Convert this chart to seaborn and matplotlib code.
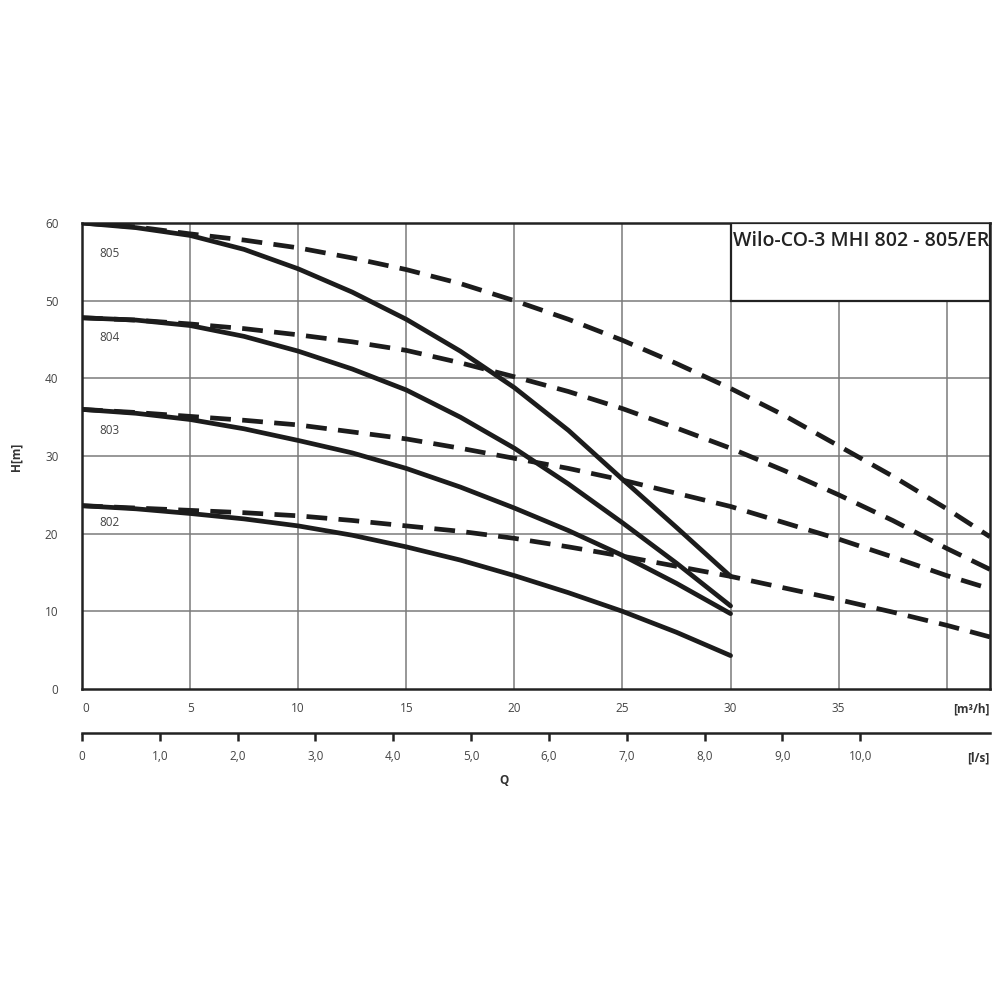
import matplotlib
matplotlib.use("Agg")
import matplotlib.pyplot as plt
import matplotlib.patches as mpatches
import seaborn as sns
import numpy as np

# Pump curves (Q in m3/h, H in m)
q_solid = [0, 2.5, 5, 7.5, 10, 12.5, 15, 17.5, 20, 22.5, 25, 27.5, 30]
h805_solid = [60.0, 59.4, 58.4, 56.6, 54.1, 51.1, 47.6, 43.5, 38.8, 33.3, 27.0, 20.8, 14.5]
h804_solid = [47.8, 47.5, 46.8, 45.4, 43.5, 41.2, 38.5, 35.0, 31.0, 26.4, 21.4, 16.2, 10.7]
h803_solid = [36.0, 35.5, 34.7, 33.5, 32.0, 30.4, 28.4, 26.0, 23.3, 20.4, 17.2, 13.6, 9.7]
h802_solid = [23.6, 23.2, 22.6, 21.9, 21.0, 19.8, 18.3, 16.6, 14.6, 12.4, 10.0, 7.3, 4.3]

q_dash = [0, 2.5, 5, 7.5, 10, 12.5, 15, 17.5, 20, 22.5, 25, 27.5, 30, 32.5, 35, 37.5, 40, 42]
h805_dash = [60.0, 59.5, 58.6, 57.8, 56.8, 55.5, 54.0, 52.2, 50.0, 47.6, 44.9, 41.9, 38.7, 35.2, 31.3, 27.4, 23.2, 19.6]
h804_dash = [47.8, 47.5, 47.0, 46.4, 45.6, 44.7, 43.6, 42.0, 40.2, 38.3, 36.1, 33.6, 31.0, 28.1, 25.0, 21.7, 18.1, 15.4]
h803_dash = [36.0, 35.6, 35.1, 34.6, 34.0, 33.1, 32.2, 31.0, 29.7, 28.4, 26.9, 25.2, 23.5, 21.4, 19.3, 17.0, 14.6, 12.9]
h802_dash = [23.6, 23.3, 23.0, 22.7, 22.3, 21.7, 21.0, 20.3, 19.4, 18.3, 17.1, 15.8, 14.5, 13.0, 11.5, 9.9, 8.2, 6.7]

pump_names = ["805", "804", "803", "802"]
name_pos_h = [56.1, 45.3, 33.3, 21.4]

x_ticks = [0, 5, 10, 15, 20, 25, 30, 35]
x_grid = [0, 5, 10, 15, 20, 25, 30, 35, 40]
y_ticks = [0, 10, 20, 30, 40, 50, 60]
ls_ticks = [0, 1, 2, 3, 4, 5, 6, 7, 8, 9, 10]
ls_labels = ["0", "1,0", "2,0", "3,0", "4,0", "5,0", "6,0", "7,0", "8,0", "9,0", "10,0"]

title = "Wilo-CO-3 MHI 802 - 805/ER"

sns.set_theme(style="white")
plt.rcParams['font.family'] = ['Open Sans', 'DejaVu Sans']

fig = plt.figure(figsize=(10, 10), dpi=100)
ax = fig.add_axes([0.082, 0.311, 0.908, 0.466])

line_c = "#1c1c1c"
for h in [h805_solid, h804_solid, h803_solid, h802_solid]:
    sns.lineplot(x=q_solid, y=h, ax=ax, color=line_c, lw=3.4, zorder=4)
for h in [h805_dash, h804_dash, h803_dash, h802_dash]:
    sns.lineplot(x=q_dash, y=h, ax=ax, color=line_c, lw=3.4, zorder=4,
                 linestyle=(0, (4.4, 2.4)))

ax.set_xlim(0, 42)
ax.set_ylim(0, 60)

# grid
for gx in x_grid[1:]:
    ax.axvline(gx, color="#7a7a7a", lw=1.1, zorder=1)
for gy in y_ticks[1:]:
    ax.axhline(gy, color="#7a7a7a", lw=1.1, zorder=1)

# title box
box = mpatches.Rectangle((30, 50), 12, 10, facecolor="white", edgecolor="#222222",
                         lw=1.6, zorder=3)
ax.add_patch(box)
ax.text(30.1, 57.7, title, fontsize=14, fontweight="semibold", color="#222222",
        va="center", ha="left", zorder=5)

for name, hp in zip(pump_names, name_pos_h):
    ax.text(0.8, hp, name, fontsize=8.5, color="#444444", va="center", ha="left", zorder=5)

for s in ax.spines.values():
    s.set_color("#222222")
    s.set_linewidth(1.8)

ax.set_xticks(x_ticks)
ax.set_xticklabels([str(t) for t in x_ticks])
ax.set_yticks(y_ticks)
ax.tick_params(axis="both", length=0, labelsize=8.5, labelcolor="#444444")
ax.tick_params(axis="x", pad=9)
ax.tick_params(axis="y", pad=17)
ax.xaxis.get_majorticklabels()[0].set_horizontalalignment("left")
ax.set_xlabel("")
ax.set_ylabel("")
fig.text(0.016, 0.543, "H[m]", fontsize=8.5, fontweight="bold", color="#333333",
         rotation=90, ha="center", va="center")

ax.text(42, -1.7, "[m³/h]", fontsize=8.5, fontweight="bold", color="#333333",
        ha="right", va="top")

# second axis in l/s
sec = ax.secondary_xaxis(-0.095, functions=(lambda q: np.asarray(q) / 3.6,
                                            lambda l: np.asarray(l) * 3.6))
sec.set_xticks(ls_ticks)
sec.set_xticklabels(ls_labels)
sec.spines["bottom"].set_linewidth(1.8)
sec.spines["bottom"].set_color("#222222")
sec.tick_params(axis="x", direction="out", length=6, width=1.8, color="#222222",
                labelsize=8.5, labelcolor="#444444", pad=6)
ax.text(42, -8.0, "[l/s]", fontsize=8.5, fontweight="bold", color="#333333",
        ha="right", va="top")
ax.text(19.5, -11.0, "Q", fontsize=8.5, fontweight="bold", color="#333333",
        ha="center", va="top")

fig.savefig("out.png", dpi=100, facecolor="white")
